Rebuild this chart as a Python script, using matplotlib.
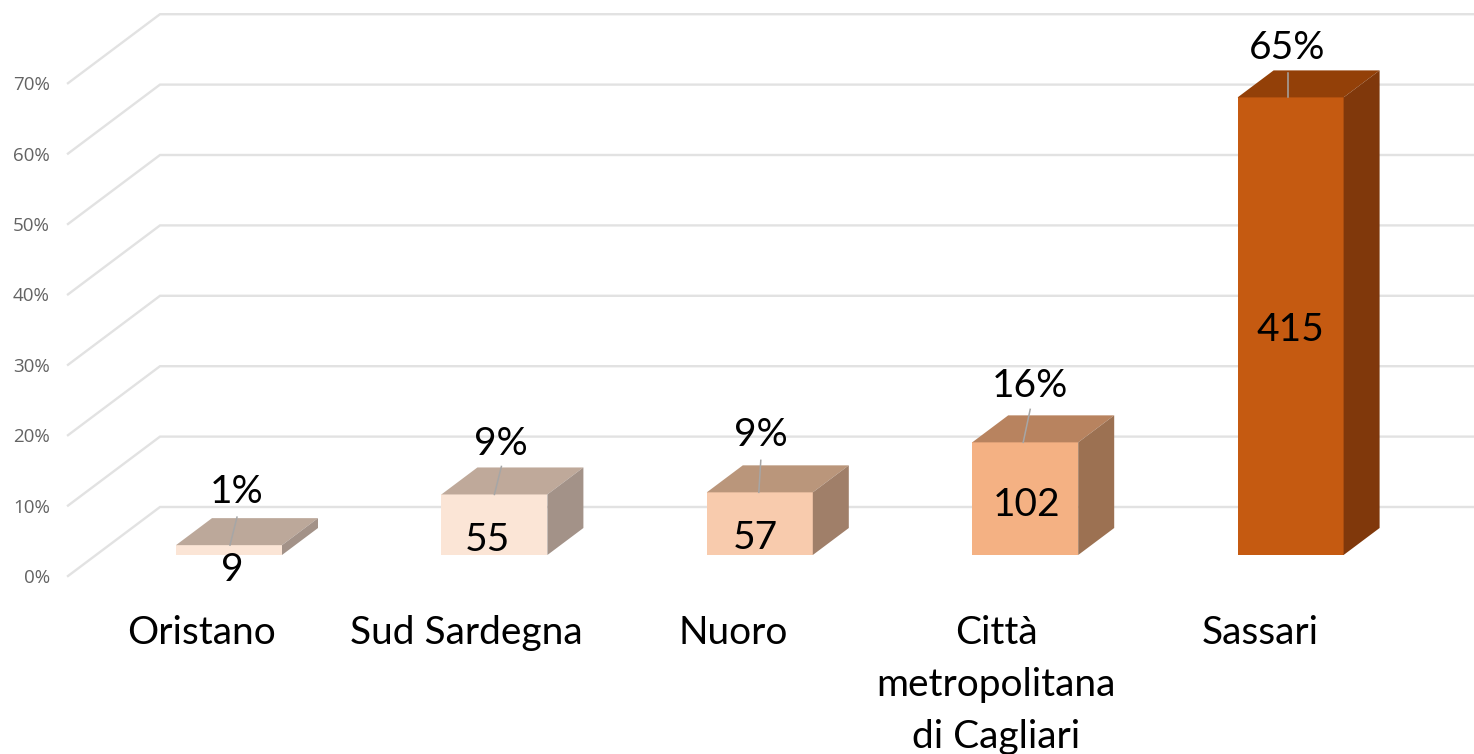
import matplotlib
matplotlib.use("Agg")
import matplotlib.pyplot as plt
from matplotlib.patches import Polygon, Rectangle

# ---- data ----
categories = ["Oristano", "Sud Sardegna", "Nuoro", "Città\nmetropolitana\ndi Cagliari", "Sassari"]
counts = [9, 55, 57, 102, 415]
percent_heights = [1.4, 8.6, 8.9, 16.0, 65.0]
percent_labels = ["1%", "9%", "9%", "16%", "65%"]
axis_ticks = [0, 10, 20, 30, 40, 50, 60, 70]

# ---- style ----
front_colors = ["#FBE5D6", "#FBE5D6", "#F8CBAD", "#F4B183", "#C55A11"]
top_colors = ["#BCA89A", "#BFA99A", "#BA967B", "#B8835F", "#934008"]
side_colors = ["#A39288", "#A39288", "#A07F69", "#9C7152", "#80380B"]

W, H = 1474, 754
PX_X = 265.4      # pixels per category
PX_Y = 7.04       # pixels per percent
X0, Y0 = 229, 555 # pixel position of first category centre / bar base

fig = plt.figure(figsize=(W / 100, H / 100), dpi=100, facecolor="white")
ax = fig.add_axes([0, 0, 1, 1])
ax.set_xlim(-X0 / PX_X, (W - X0) / PX_X)
ax.set_ylim(-(H - Y0) / PX_Y, Y0 / PX_Y)
ax.axis("off")


def dx(px):
    return px / PX_X


def dy(px):
    return px / PX_Y


FONT = "Lato"
SIZE = 28
bar_w = dx(106)
bar_dx, bar_dy = dx(36), dy(27)

# back-wall gridlines with the floor diagonal
wall_offset = dy(Y0 - 507)
wall_x = dx(160 - X0)
front_x = dx(68 - X0)
right_x = dx(W - X0)
for t in axis_ticks:
    y = t + wall_offset
    ax.plot([front_x, wall_x, right_x], [y - dy(69), y, y],
            color="#E2E2E2", lw=1.7, solid_joinstyle="miter", zorder=1)
    ax.annotate(f"{t}%", xy=(front_x, y - dy(69)), xytext=(-18, -2),
                textcoords="offset pixels", ha="right", va="center",
                fontsize=13.5, color="#636363", family="Open Sans", zorder=2)

pct_offsets = [(8, 53), (6, 50), (1, 57), (5, 56), (-3, 49)]
count_offsets = [(3, -15), (-7, 15), (-4, 17), (1, 50), (0, 225)]
lead_offsets = [(1, 7, 28), (0, 7, 28), (-1, 2, 32), (-2, 7, 33), (-3, 0, 24)]
cat_offsets = [-27, -28, -27, -29, -30]

for i, (cat, n, h, lab) in enumerate(zip(categories, counts, percent_heights, percent_labels)):
    l, r = i - bar_w / 2, i + bar_w / 2
    ax.add_patch(Rectangle((l, 0), bar_w, h, fc=front_colors[i], ec="none", zorder=3))
    ax.add_patch(Polygon([(l, h), (r, h), (r + bar_dx, h + bar_dy), (l + bar_dx, h + bar_dy)],
                         closed=True, fc=top_colors[i], ec="none", zorder=3))
    ax.add_patch(Polygon([(r, 0), (r + bar_dx, bar_dy), (r + bar_dx, h + bar_dy), (r, h)],
                         closed=True, fc=side_colors[i], ec="none", zorder=3))
    # leader line
    lx, ldx, ldy = lead_offsets[i]
    ax.plot([i + dx(lx), i + dx(lx + ldx)], [h, h + dy(ldy)], color="#A6A6A6", lw=1.1, zorder=4)
    # percent label
    ox, oy = pct_offsets[i]
    ax.annotate(lab, xy=(i, h), xytext=(ox, oy), textcoords="offset pixels",
                ha="center", va="center", fontsize=SIZE, family=FONT, color="black", zorder=5)
    # count label
    ox, oy = count_offsets[i]
    ax.annotate(str(n), xy=(i, 0), xytext=(ox, oy), textcoords="offset pixels",
                ha="center", va="center", fontsize=SIZE, family=FONT, color="black", zorder=5)
    # category label, first line centred at a fixed row below the floor
    for j, line in enumerate(cat.split("\n")):
        ax.annotate(line, xy=(i, 0), xytext=(cat_offsets[i], -78 - 52 * j), textcoords="offset pixels",
                    ha="center", va="center", fontsize=SIZE, family=FONT, color="black", zorder=5)

fig.savefig("out.png", dpi=100, facecolor="white")
